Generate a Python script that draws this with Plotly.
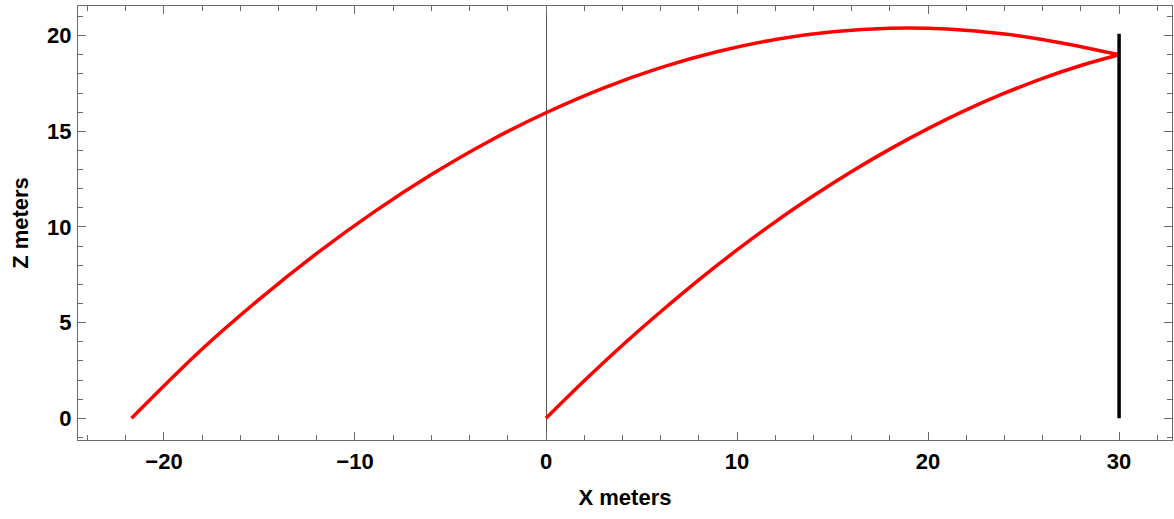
import plotly.graph_objects as go

# Trajectory launched from the origin
low_x = [0, 2, 4, 6, 8, 10, 12, 14, 16, 18, 20, 22, 24, 26, 28, 30]
low_z = [0.0, 1.96, 3.82, 5.57, 7.24, 8.80, 10.27, 11.63, 12.90, 14.07,
         15.14, 16.12, 16.99, 17.77, 18.44, 19.0]

# Trajectory launched from the left
high_x = [-21.7, -18, -15, -12, -9, -6, -3, 0, 3, 6, 9, 12, 15, 18, 21, 24, 27, 30]
high_z = [0.0, 3.62, 6.23, 8.62, 10.79, 12.74, 14.47, 15.97, 17.26, 18.33,
          19.17, 19.80, 20.20, 20.39, 20.35, 20.09, 19.62, 19.0]

# Wall
wall_x = [30, 30]
wall_z = [0, 20.1]

fig = go.Figure()
fig.add_trace(go.Scatter(x=low_x, y=low_z, mode="lines", line_shape="spline",
                         line=dict(color="#ff0000", width=3.5), showlegend=False))
fig.add_trace(go.Scatter(x=high_x, y=high_z, mode="lines", line_shape="spline",
                         line=dict(color="#ff0000", width=3.5), showlegend=False))
fig.add_trace(go.Scatter(x=wall_x, y=wall_z, mode="lines",
                         line=dict(color="#000000", width=3.5), showlegend=False))

frame = "#6a6a6a"
fam = "Liberation Sans, Arial, sans-serif"
fnt = dict(family=fam, size=22, color="black", weight="bold")
tfnt = dict(family=fam, size=22, color="black", weight="bold")

fig.update_layout(
    width=1174, height=519,
    margin=dict(l=78, r=2, t=6, b=79),
    plot_bgcolor="white", paper_bgcolor="white",
    xaxis=dict(range=[-24.5, 32.77], tick0=0, dtick=10, ticks="inside", ticklen=8,
               tickcolor=frame, tickwidth=1, showline=True, linecolor=frame, linewidth=1,
               mirror="allticks", showgrid=False, zeroline=True, zerolinecolor="#555555",
               zerolinewidth=1, tickfont=fnt, ticklabelstandoff=2,
               minor=dict(dtick=2, tick0=0, ticks="inside", ticklen=5, tickcolor=frame, showgrid=False),
               title=dict(text="X meters", font=tfnt, standoff=16)),
    yaxis=dict(range=[-1.134, 21.55], tick0=0, dtick=5, ticks="inside", ticklen=8,
               tickcolor=frame, tickwidth=1, showline=True, linecolor=frame, linewidth=1,
               mirror="allticks", showgrid=False, zeroline=False, tickfont=fnt,
               ticklabelstandoff=1,
               minor=dict(dtick=1, tick0=0, ticks="inside", ticklen=5, tickcolor=frame, showgrid=False),
               title=dict(text="Z meters", font=tfnt, standoff=12)),
)

fig.write_html("out.html")
